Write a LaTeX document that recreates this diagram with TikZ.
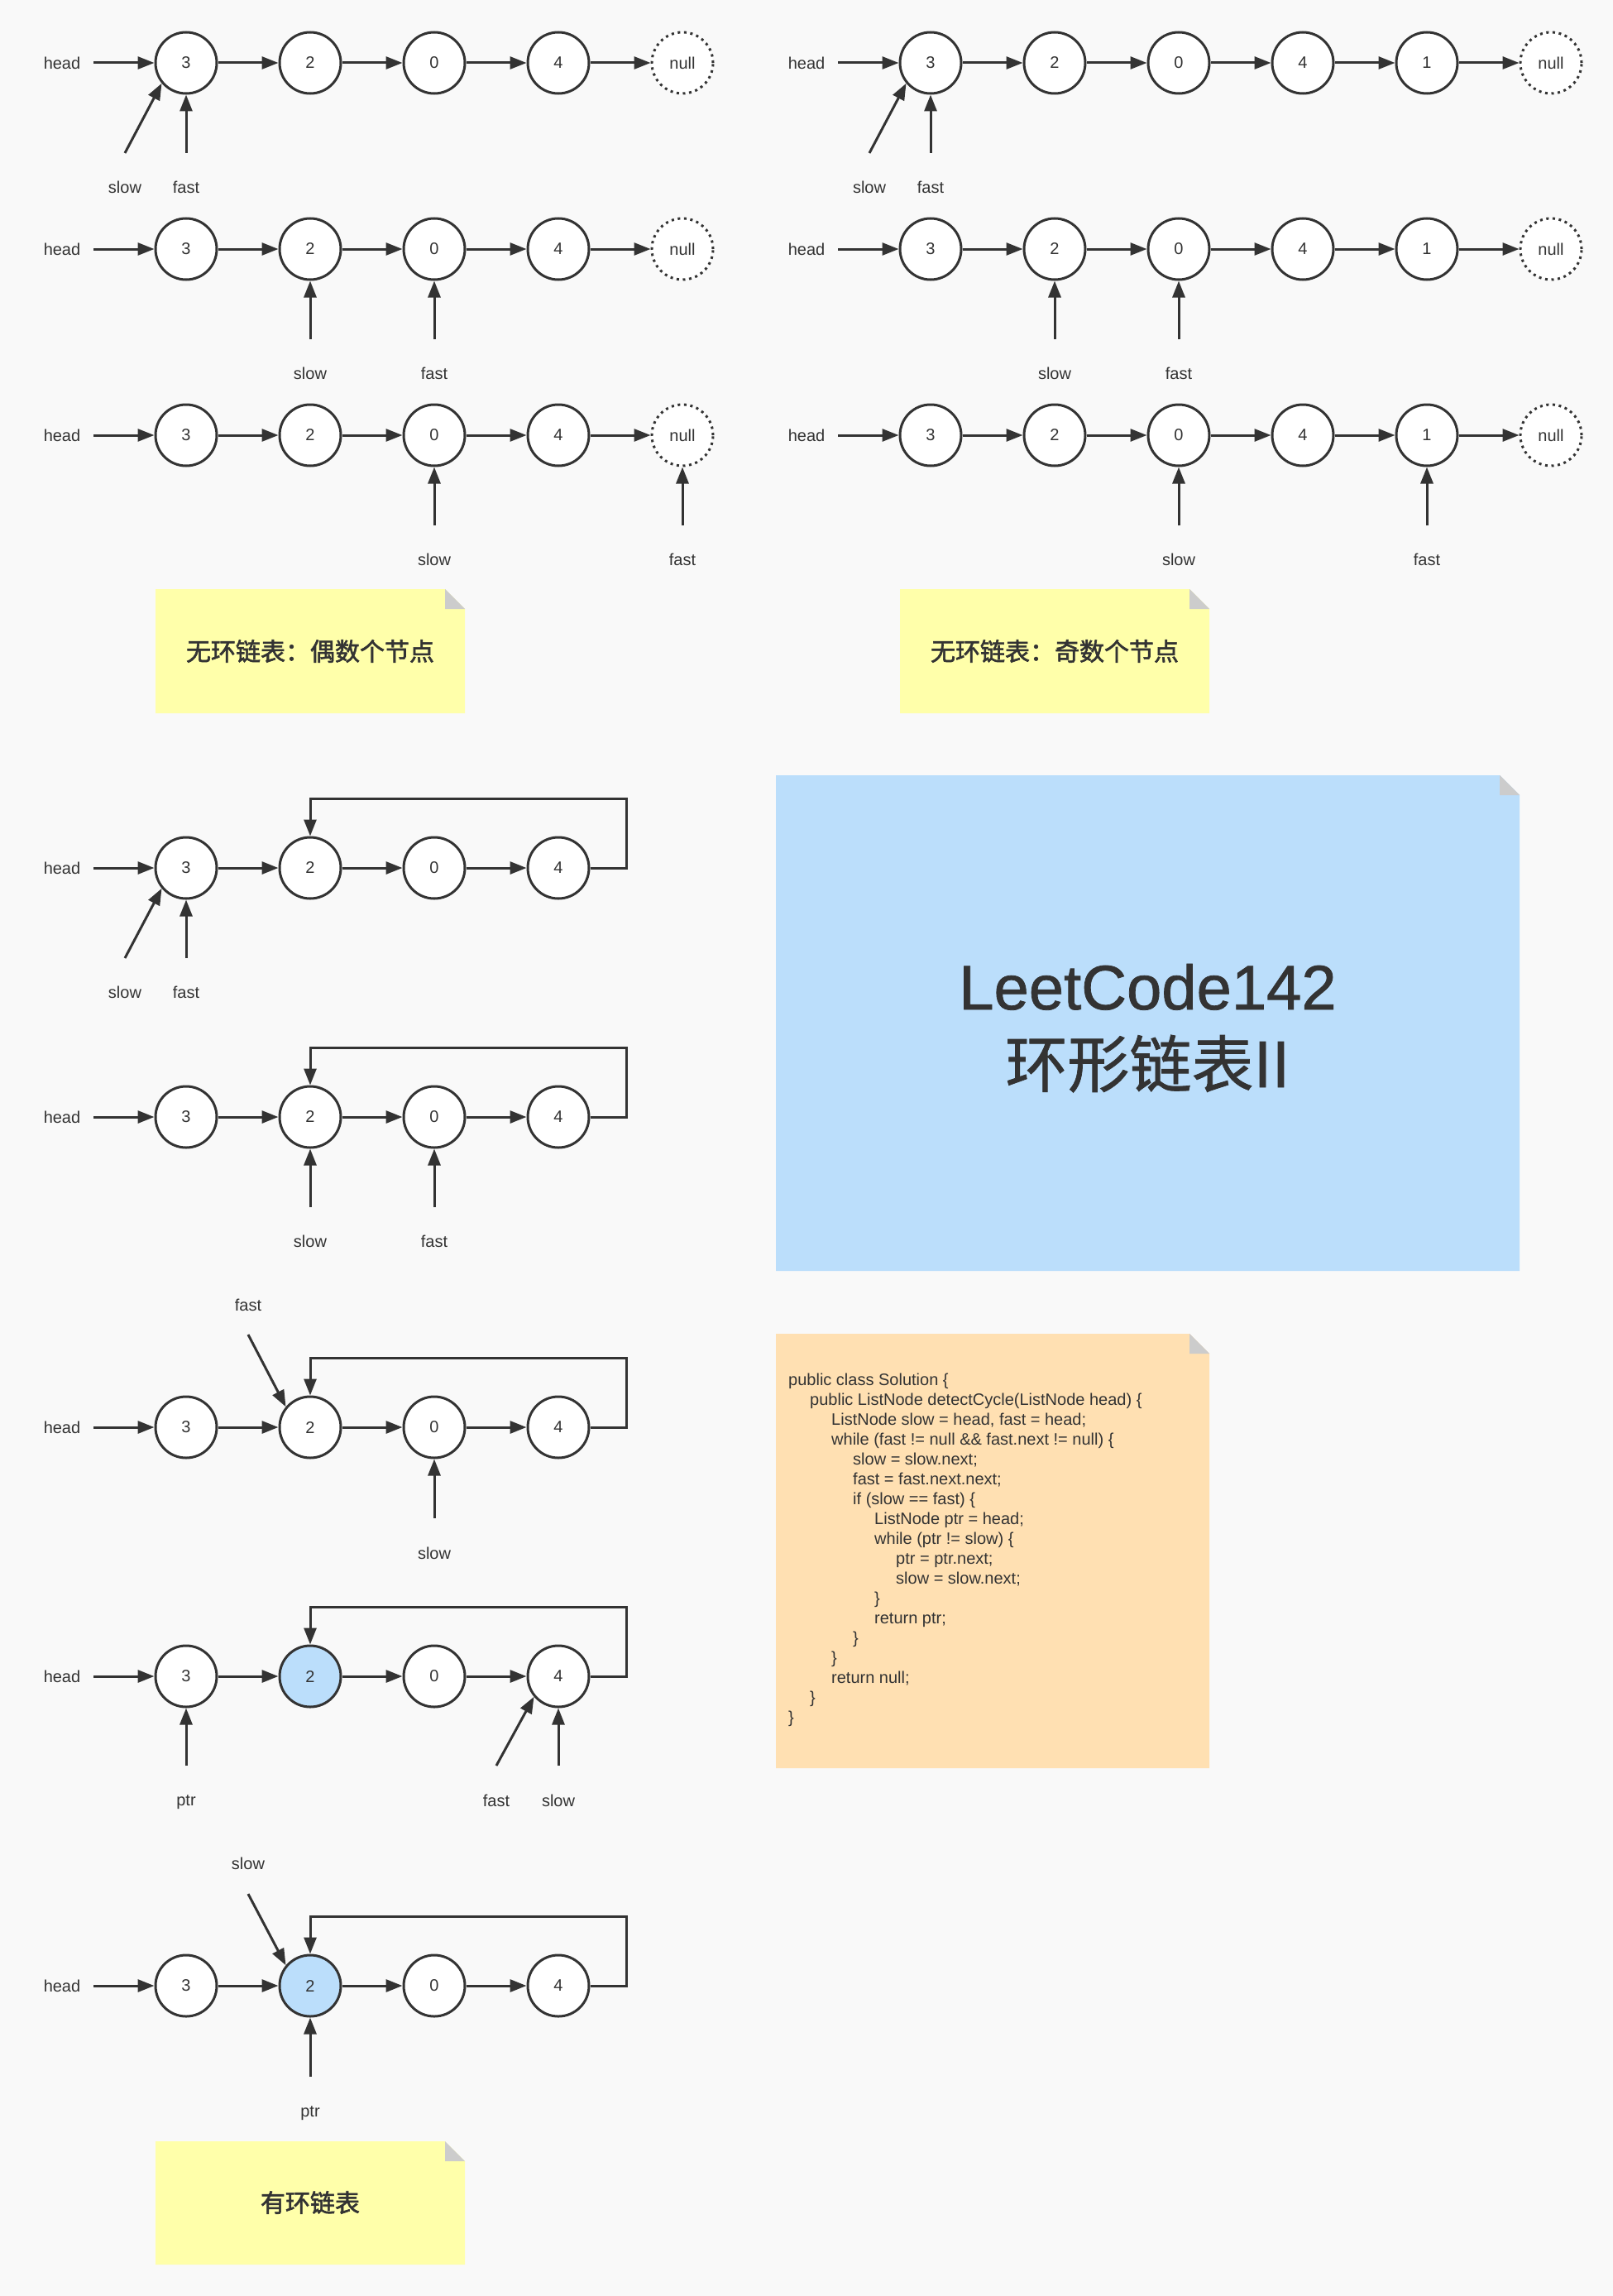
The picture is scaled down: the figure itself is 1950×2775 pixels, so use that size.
\documentclass[tikz,border=0pt]{standalone}
\usepackage{fontspec}
\setmainfont{Liberation Sans}
\newfontfamily\cjk{Noto Sans CJK SC}
\newfontfamily\cjkmed[FakeBold=1]{Noto Sans CJK SC}
\newfontfamily\cjkbold[FakeBold=2]{Noto Sans CJK SC}
\newfontfamily\titlelat[FakeBold=1]{Liberation Sans}
\usetikzlibrary{arrows.meta}
\definecolor{ink}{HTML}{333333}
\definecolor{bgc}{HTML}{F9F9F9}
\definecolor{noteyellow}{HTML}{FFFFAA}
\definecolor{foldgray}{HTML}{CCCCCC}
\definecolor{nodeblue}{HTML}{BBDEFB}
\definecolor{peach}{HTML}{FFE0B2}
\tikzset{
  lnode/.style={circle, draw=ink, line width=3pt, fill=white, minimum size=74pt, inner sep=0pt, text=ink, font=\fontsize{20}{24}\selectfont},
  nullnode/.style={lnode, dash pattern=on 3pt off 4.6pt},
  lbl/.style={text=ink, inner sep=0pt, text depth=0pt, font=\fontsize{20}{24}\selectfont},
  headlbl/.style={lbl, inner xsep=16pt},
  arr/.style={draw=ink, line width=3pt, -{Triangle[length=20pt,width=15pt]}},
  codeline/.style={anchor=base west, inner sep=0pt, text=ink, font=\fontsize{20}{24}\selectfont},
  notetext/.style={text=ink, inner sep=0pt, font=\cjkbold\fontsize{30}{36}\selectfont},
}
\newcommand\evenrow[2]{%
  \node[headlbl] (#1h) at (75,#2) {head};
  \foreach \v [count=\i] in {3,2,0,4} {\node[lnode] (#1n\i) at (75+150*\i,#2) {\v};}
  \node[nullnode] (#1n5) at (825,#2) {null};
  \draw[arr] (#1h) -- (#1n1);
  \foreach \i/\j in {1/2,2/3,3/4,4/5} {\draw[arr] (#1n\i) -- (#1n\j);}
}
\newcommand\oddrow[2]{%
  \node[headlbl] (#1h) at (975,#2) {head};
  \foreach \v [count=\i] in {3,2,0,4,1} {\node[lnode] (#1n\i) at (975+150*\i,#2) {\v};}
  \node[nullnode] (#1n6) at (1875,#2) {null};
  \draw[arr] (#1h) -- (#1n1);
  \foreach \i/\j in {1/2,2/3,3/4,4/5,5/6} {\draw[arr] (#1n\i) -- (#1n\j);}
}
\newcommand\cycrow[3]{%
  \node[headlbl] (#1h) at (75,#2) {head};
  \node[lnode] (#1n1) at (225,#2) {3};
  \node[lnode, fill=#3] (#1n2) at (375,#2) {2};
  \node[lnode] (#1n3) at (525,#2) {0};
  \node[lnode] (#1n4) at (675,#2) {4};
  \draw[arr] (#1h) -- (#1n1);
  \foreach \i/\j in {1/2,2/3,3/4} {\draw[arr] (#1n\i) -- (#1n\j);}
  \coordinate (#1lp) at (757,#2-84);
  \draw[arr] (#1n4.east) -| (#1lp) -| (#1n2.north);
}
\newcommand\notebox[5]{%
  \fill[#5] (#1,#2) -- (#3-24,#2) -- (#3,#2+24) -- (#3,#4) -- (#1,#4) -- cycle;
  \fill[foldgray] (#3-24,#2) -- (#3-24,#2+24) -- (#3,#2+24) -- cycle;
}
\begin{document}
\begin{tikzpicture}[x=1pt,y=-1pt]
\useasboundingbox (0,0) rectangle (1950,2775);
\fill[bgc] (0,0) rectangle (1950,2775);

% ---------- no-cycle, even ----------
\evenrow{ea}{76}
\node[lbl] (easlow) at (151,226) {slow};
\node[lbl] (eafast) at (225,226) {fast};
\coordinate (easlowS) at (151,185);
\coordinate (eafastS) at (225,185);
\draw[arr] (easlowS) -- (ean1.220);
\draw[arr] (eafastS) -- (ean1);

\evenrow{eb}{301}
\node[lbl] (ebslow) at (375,451) {slow};
\node[lbl] (ebfast) at (525,451) {fast};
\coordinate (ebslowS) at (375,410);
\coordinate (ebfastS) at (525,410);
\draw[arr] (ebslowS) -- (ebn2);
\draw[arr] (ebfastS) -- (ebn3);

\evenrow{ec}{526}
\node[lbl] (ecslow) at (525,676) {slow};
\node[lbl] (ecfast) at (825,676) {fast};
\coordinate (ecslowS) at (525,635);
\coordinate (ecfastS) at (825,635);
\draw[arr] (ecslowS) -- (ecn3);
\draw[arr] (ecfastS) -- (ecn5);

% ---------- no-cycle, odd ----------
\oddrow{oa}{76}
\node[lbl] (oaslow) at (1051,226) {slow};
\node[lbl] (oafast) at (1125,226) {fast};
\coordinate (oaslowS) at (1051,185);
\coordinate (oafastS) at (1125,185);
\draw[arr] (oaslowS) -- (oan1.220);
\draw[arr] (oafastS) -- (oan1);

\oddrow{ob}{301}
\node[lbl] (obslow) at (1275,451) {slow};
\node[lbl] (obfast) at (1425,451) {fast};
\coordinate (obslowS) at (1275,410);
\coordinate (obfastS) at (1425,410);
\draw[arr] (obslowS) -- (obn2);
\draw[arr] (obfastS) -- (obn3);

\oddrow{oc}{526}
\node[lbl] (ocslow) at (1425,676) {slow};
\node[lbl] (ocfast) at (1725,676) {fast};
\coordinate (ocslowS) at (1425,635);
\coordinate (ocfastS) at (1725,635);
\draw[arr] (ocslowS) -- (ocn3);
\draw[arr] (ocfastS) -- (ocn5);

% ---------- notes ----------
\notebox{188}{712}{562}{862}{noteyellow}
\node[notetext] (noteeven) at (375,787) {无环链表：偶数个节点};
\notebox{1088}{712}{1462}{862}{noteyellow}
\node[notetext] (noteodd) at (1275,787) {无环链表：奇数个节点};

% ---------- cyclic ----------
\cycrow{ca}{1049}{white}
\node[lbl] (caslow) at (151,1199) {slow};
\node[lbl] (cafast) at (225,1199) {fast};
\coordinate (caslowS) at (151,1158);
\coordinate (cafastS) at (225,1158);
\draw[arr] (caslowS) -- (can1.220);
\draw[arr] (cafastS) -- (can1);

\cycrow{cb}{1350}{white}
\node[lbl] (cbslow) at (375,1500) {slow};
\node[lbl] (cbfast) at (525,1500) {fast};
\coordinate (cbslowS) at (375,1459);
\coordinate (cbfastS) at (525,1459);
\draw[arr] (cbslowS) -- (cbn2);
\draw[arr] (cbfastS) -- (cbn3);

\cycrow{cc}{1725}{white}
\node[lbl] (ccfast) at (300,1577) {fast};
\node[lbl] (ccslow) at (525,1877) {slow};
\coordinate (ccfastS) at (300,1613);
\coordinate (ccslowS) at (525,1835);
\draw[arr] (ccfastS) -- (ccn2.140);
\draw[arr] (ccslowS) -- (ccn3);

\cycrow{cd}{2026}{nodeblue}
\node[lbl] (cdptr) at (225,2176) {ptr};
\node[lbl] (cdfast) at (600,2176) {fast};
\node[lbl] (cdslow) at (675,2176) {slow};
\coordinate (cdptrS) at (225,2134);
\coordinate (cdfastS) at (600,2134);
\coordinate (cdslowS) at (675,2134);
\draw[arr] (cdptrS) -- (cdn1);
\draw[arr] (cdfastS) -- (cdn4.220);
\draw[arr] (cdslowS) -- (cdn4);

\cycrow{ce}{2400}{nodeblue}
\node[lbl] (ceslow) at (300,2252) {slow};
\node[lbl] (ceptr) at (375,2552) {ptr};
\coordinate (ceslowS) at (300,2289);
\coordinate (ceptrS) at (375,2510);
\draw[arr] (ceslowS) -- (cen2.140);
\draw[arr] (ceptrS) -- (cen2);

\notebox{188}{2588}{562}{2737}{noteyellow}
\node[notetext] (notecyc) at (375,2662) {有环链表};

% ---------- title ----------
\notebox{938}{937}{1837}{1536}{nodeblue}
\node[anchor=base, inner sep=0pt, text=ink, font=\titlelat\fontsize{76}{90}\selectfont] (title1) at (1387.5,1220) {LeetCode142};
\node[anchor=base, inner sep=0pt, text=ink, font=\cjkmed\fontsize{75}{90}\selectfont] (title2) at (1387.5,1314) {环形链表II};

% ---------- code ----------
\notebox{938}{1612}{1462}{2137}{peach}
\node[codeline] (cl1)  at (953,1674) {public class Solution \{};
\node[codeline] (cl2)  at (979,1698) {public ListNode detectCycle(ListNode head) \{};
\node[codeline] (cl3)  at (1005,1722) {ListNode slow = head, fast = head;};
\node[codeline] (cl4)  at (1005,1746) {while (fast != null \&\& fast.next != null) \{};
\node[codeline] (cl5)  at (1031,1770) {slow = slow.next;};
\node[codeline] (cl6)  at (1031,1794) {fast = fast.next.next;};
\node[codeline] (cl7)  at (1031,1818) {if (slow == fast) \{};
\node[codeline] (cl8)  at (1057,1842) {ListNode ptr = head;};
\node[codeline] (cl9)  at (1057,1866) {while (ptr != slow) \{};
\node[codeline] (cl10) at (1083,1890) {ptr = ptr.next;};
\node[codeline] (cl11) at (1083,1914) {slow = slow.next;};
\node[codeline] (cl12) at (1057,1938) {\}};
\node[codeline] (cl13) at (1057,1962) {return ptr;};
\node[codeline] (cl14) at (1031,1986) {\}};
\node[codeline] (cl15) at (1005,2010) {\}};
\node[codeline] (cl16) at (1005,2034) {return null;};
\node[codeline] (cl17) at (979,2058) {\}};
\node[codeline] (cl18) at (953,2082) {\}};
\end{tikzpicture}
\end{document}
